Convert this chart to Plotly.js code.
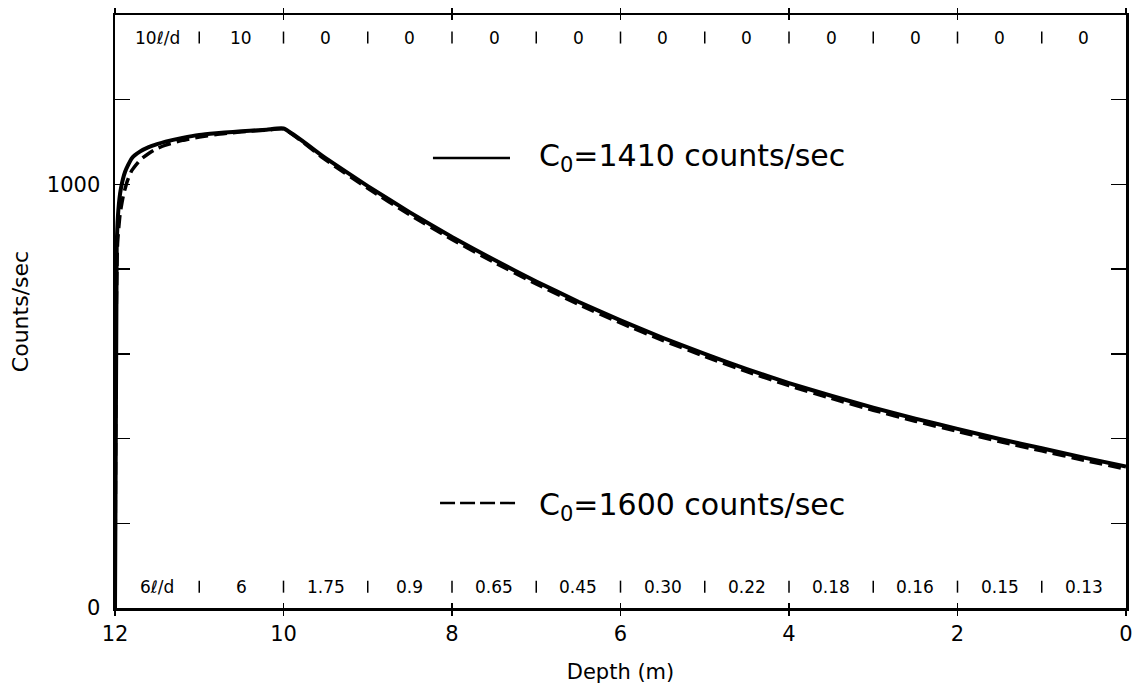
<!DOCTYPE html>
<html>
<head>
<meta charset="utf-8">
<script src="https://cdn.plot.ly/plotly-3.0.1.min.js"></script>
<style>html,body{margin:0;padding:0;background:#fff;}#chart{width:1138px;height:692px;}</style>
</head>
<body>
<div id="chart"></div>
<script>
// ---- data ----
const depthSolid = [12, 11.98, 11.96, 11.93, 11.88, 11.8, 11.7, 11.6, 11.5, 11.4, 11.2, 11.0, 10.8, 10.6, 10.4, 10.2, 10.0,
  9.5, 9.0, 8.5, 8.0, 7.5, 7.0, 6.5, 6.0, 5.5, 5.0, 4.5, 4.0, 3.5, 3.0, 2.5, 2.0, 1.5, 1.0, 0.5, 0];
const countsSolid = [0, 850, 940, 990, 1030, 1062, 1078, 1088, 1095, 1101, 1110, 1117, 1121, 1124, 1127, 1129, 1132,
  1062, 996, 934, 876, 822, 771, 723, 679, 638, 600, 564, 531, 501, 473, 447, 423, 399, 377, 355, 334];

const depthDashed = [12, 11.985, 11.97, 11.94, 11.9, 11.85, 11.8, 11.7, 11.6, 11.5, 11.4, 11.2, 11.0, 10.8, 10.6, 10.4, 10.2, 10.0,
  9.5, 9.0, 8.5, 8.0, 7.5, 7.0, 6.5, 6.0, 5.5, 5.0, 4.5, 4.0, 3.5, 3.0, 2.5, 2.0, 1.5, 1.0, 0.5, 0];
const countsDashed = [0, 700, 860, 930, 975, 1010, 1033, 1058, 1073, 1085, 1093, 1104, 1112, 1118, 1122, 1126, 1128, 1131,
  1058, 991, 928, 870, 816, 765, 717, 673, 632, 594, 558, 525, 495, 467, 441, 417, 393, 371, 349, 328];

const seriesNames = ['C<sub>0</sub>=1410 counts/sec', 'C<sub>0</sub>=1600 counts/sec'];

// rate rows: one label per 1-m depth interval, from 12 m down to 0 m
const topRowLabels = ['10ℓ/d', '10', '0', '0', '0', '0', '0', '0', '0', '0', '0', '0'];
const bottomRowLabels = ['6ℓ/d', '6', '1.75', '0.9', '0.65', '0.45', '0.30', '0.22', '0.18', '0.16', '0.15', '0.13'];
const intervalBounds = [12, 11, 10, 9, 8, 7, 6, 5, 4, 3, 2, 1, 0];

const xTickVals = [12, 10, 8, 6, 4, 2, 0];
const xTickText = ['12', '10', '8', '6', '4', '2', '0'];
const yTickVals = [0, 1000];
const yTickText = ['0', '1000'];

// ---- chart ----
const FONT = 'DejaVu Sans, Liberation Sans, sans-serif';

const traces = [
  {x: depthSolid, y: countsSolid, mode: 'lines', name: seriesNames[0],
   line: {color: '#000', width: 4, shape: 'spline', smoothing: 0.5}},
  {x: depthDashed, y: countsDashed, mode: 'lines', name: seriesNames[1],
   line: {color: '#000', width: 3.5, dash: '13px,6px', shape: 'spline', smoothing: 0.5}},
  // invisible trace to hold secondary x axis (inward tick marks)
  {x: [12, 0], y: [0, 0], xaxis: 'x2', mode: 'lines', line: {width: 0}, hoverinfo: 'skip', showlegend: false}
];

const annotations = [];
const shapes = [];
const yTopRow = 0.962, yBotRow = 0.036;
for (let i = 0; i < topRowLabels.length; i++) {
  const xc = (intervalBounds[i] + intervalBounds[i + 1]) / 2;
  annotations.push({x: xc, y: yTopRow, xref: 'x', yref: 'paper', text: topRowLabels[i], showarrow: false,
    font: {family: FONT, size: 17, color: '#000'}, xanchor: 'center', yanchor: 'middle'});
  annotations.push({x: xc, y: yBotRow, xref: 'x', yref: 'paper', text: bottomRowLabels[i], showarrow: false,
    font: {family: FONT, size: 17, color: '#000'}, xanchor: 'center', yanchor: 'middle'});
}
for (let i = 1; i < intervalBounds.length - 1; i++) {
  [yTopRow, yBotRow].forEach(yy => shapes.push({type: 'line', xref: 'x', yref: 'paper', ysizemode: 'pixel',
    yanchor: yy, x0: intervalBounds[i], x1: intervalBounds[i], y0: -6, y1: 6, line: {color: '#000', width: 1.5}}));
}

// legend: line samples + text
shapes.push({type: 'line', xref: 'paper', yref: 'paper', x0: 0.3145, x1: 0.3907, y0: 0.759, y1: 0.759,
  line: {color: '#000', width: 2.5}});
shapes.push({type: 'line', xref: 'paper', yref: 'paper', x0: 0.3215, x1: 0.3986, y0: 0.177, y1: 0.177,
  line: {color: '#000', width: 2.5, dash: '15px,5px'}});
annotations.push({x: 0.4174, y: 0.759, xref: 'paper', yref: 'paper', text: seriesNames[0], showarrow: false,
  xanchor: 'left', yanchor: 'middle', font: {family: FONT, size: 30, color: '#000'}});
annotations.push({x: 0.4174, y: 0.172, xref: 'paper', yref: 'paper', text: seriesNames[1], showarrow: false,
  xanchor: 'left', yanchor: 'middle', font: {family: FONT, size: 30, color: '#000'}});

const layout = {
  width: 1138, height: 692,
  margin: {l: 115, r: 12, t: 15, b: 84},
  paper_bgcolor: '#fff', plot_bgcolor: '#fff',
  showlegend: false,
  font: {family: FONT, color: '#000'},
  xaxis: {range: [12, 0], tickvals: xTickVals, ticktext: xTickText, ticks: 'outside', ticklen: 5, tickwidth: 1.5,
    tickcolor: '#000', mirror: 'ticks', showline: true, linecolor: '#000', linewidth: 2.5, showgrid: false, zeroline: false,
    tickfont: {family: FONT, size: 21, color: '#000'},
    title: {text: 'Depth (m)', font: {family: FONT, size: 21, color: '#000'}, standoff: 20}},
  xaxis2: {range: [12, 0], overlaying: 'x', anchor: 'y', side: 'bottom', tickvals: [10, 8, 6, 4, 2], ticks: 'inside',
    ticklen: 5, tickwidth: 1.5, tickcolor: '#000', mirror: 'ticks', showticklabels: false, showgrid: false, zeroline: false,
    showline: false},
  yaxis: {range: [0, 1400], tickvals: yTickVals, ticktext: yTickText, ticks: 'inside', ticklen: 15, tickwidth: 1.5,
    tickcolor: '#000', mirror: 'ticks', showline: true, linecolor: '#000', linewidth: 2.5, showgrid: false, zeroline: false,
    ticklabelstandoff: 8,
    minor: {tick0: 0, dtick: 200, ticks: 'inside', ticklen: 15, tickwidth: 1.5, tickcolor: '#000', showgrid: false},
    tickfont: {family: FONT, size: 21, color: '#000'},
    title: {text: 'Counts/sec', font: {family: FONT, size: 22, color: '#000'}, standoff: 12}},
  annotations: annotations,
  shapes: shapes
};

Plotly.newPlot('chart', traces, layout, {displayModeBar: false, staticPlot: true});
</script>
</body>
</html>
